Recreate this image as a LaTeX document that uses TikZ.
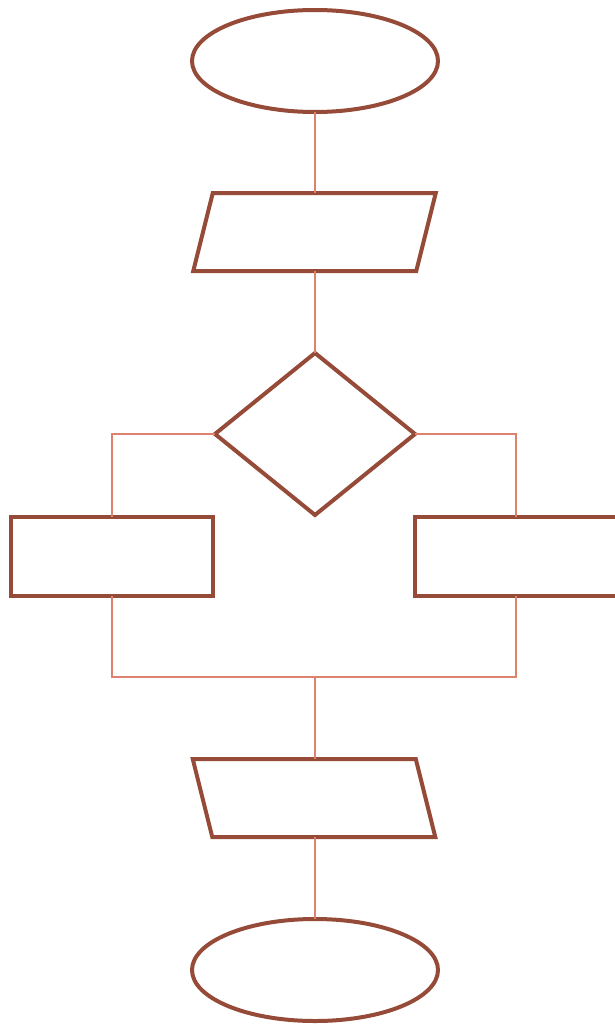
\documentclass[tikz,border=0pt]{standalone}
\usetikzlibrary{shapes.geometric}
\definecolor{shapeline}{RGB}{150,74,56}
\definecolor{connline}{RGB}{221,130,108}
\tikzset{
  base/.style={draw=shapeline, line width=4pt, fill=white, inner sep=0pt, outer sep=0pt},
  terminal/.style={base, ellipse, minimum width=246pt, minimum height=102pt},
  iobox/.style={base, rectangle, minimum width=223pt, minimum height=78pt},
  decision/.style={base, diamond, minimum width=200pt, minimum height=162pt},
  process/.style={base, rectangle, minimum width=202pt, minimum height=79pt},
  conn/.style={draw=connline, line width=1.6pt},
}
\begin{document}
\begin{tikzpicture}[x=1pt,y=1pt]
\useasboundingbox (0,0) rectangle (615,-1025);
\clip (0,0) rectangle (615,-1025);
\node[terminal] (start) at (315,-61) {};
\node[iobox, xslant=0.25] (in) at (314.5,-232) {};
\node[decision] (dec) at (315,-434) {};
\node[process] (left) at (112,-556) {};
\node[process] (right) at (516,-556) {};
\coordinate (join) at (315,-677);
\node[iobox, xslant=-0.25] (out) at (314,-798) {};
\node[terminal] (stop) at (315,-970) {};
\draw[conn] (start.south) -- (start.south |- in.north);
\draw[conn] (dec.north |- in.south) -- (dec.north);
\draw[conn] (dec.west) -| (left.north);
\draw[conn] (dec.east) -| (right.north);
\draw[conn] (left.south) |- (join) -| (right.south);
\draw[conn] (join) -- (join |- out.north);
\draw[conn] (stop.north |- out.south) -- (stop.north);
\end{tikzpicture}
\end{document}
